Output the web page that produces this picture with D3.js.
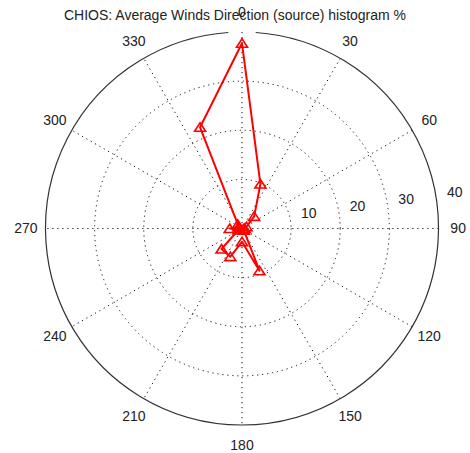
<!DOCTYPE html>
<html>
<head>
<meta charset="utf-8">
<script src="https://cdn.jsdelivr.net/npm/d3@7"></script>
<style>
  body { margin: 0; background: #fff; }
  text { font-family: Arial, "Liberation Sans", sans-serif; font-size: 14px; fill: #222; }
</style>
</head>
<body>
<div class="chart"></div>
<script>
// wind direction bins (degrees, compass) and frequency (%)
const directions = [0, 22.5, 45, 67.5, 90, 112.5, 135, 157.5, 180, 202.5, 225, 247.5, 270, 292.5, 315, 337.5]
const frequencies = [37.7, 9.8, 3.5, 1.0, 0.5, 0.3, 0.5, 9.3, 2.7, 6.2, 5.9, 0.8, 2.5, 0.8, 1.2, 22.3]
const ringTicks = [10, 20, 30, 40]
const angleTicks = [0, 30, 60, 90, 120, 150, 180, 210, 240, 270, 300, 330]
const title = 'CHIOS: Average Winds Direction (source) histogram %'

const width = 470
const height = 453
const cx = 242
const cy = 228.5
const R = 196.5

const data = directions.map((d, i) => ({ dir: d, freq: frequencies[i] }))

const rScale = d3.scaleLinear()
  .domain([0, d3.max(ringTicks)])
  .range([0, R])
const aScale = d3.scaleLinear()
  .domain([0, 360])
  .range([0, 2 * Math.PI])

const svg = d3.select('.chart')
  .append('svg')
  .attr('width', width)
  .attr('height', height)

svg.append('text')
  .attr('x', 235)
  .attr('y', 19.5)
  .attr('text-anchor', 'middle')
  .text(title)

const g = svg.append('g')
  .attr('transform', `translate(${cx},${cy})`)

const px = (a, r) => r * Math.sin(aScale(a))
const py = (a, r) => -r * Math.cos(aScale(a))

// spokes, dotted diameters
g.selectAll('.spoke')
  .data(angleTicks.filter(a => a < 180))
  .enter()
  .append('line')
  .attr('class', 'spoke')
  .attr('x1', d => px(d, R))
  .attr('y1', d => py(d, R))
  .attr('x2', d => px(d + 180, R))
  .attr('y2', d => py(d + 180, R))
  .attr('stroke', '#111')
  .attr('stroke-width', 1)
  .attr('stroke-dasharray', '1.2,3.8')

// inner rings dotted
g.selectAll('.ring')
  .data(ringTicks.slice(0, -1))
  .enter()
  .append('circle')
  .attr('class', 'ring')
  .attr('r', d => rScale(d))
  .attr('fill', 'none')
  .attr('stroke', '#111')
  .attr('stroke-width', 1)
  .attr('stroke-dasharray', '1.2,3.8')

// outer ring solid
g.append('path')
  .attr('d', d3.arc()
    .innerRadius(rScale(d3.max(ringTicks)))
    .outerRadius(rScale(d3.max(ringTicks)))
    .startAngle(aScale(4))
    .endAngle(aScale(356))())
  .attr('fill', 'none')
  .attr('stroke', '#333')
  .attr('stroke-width', 1.2)

// ring labels
g.selectAll('.ring-label')
  .data(ringTicks)
  .enter()
  .append('text')
  .attr('class', 'ring-label')
  .attr('x', d => px(82, rScale(d + 0.5)) + 8)
  .attr('y', d => py(82, rScale(d + 0.5)) - 3.5)
  .text(d => d)

// angle labels
g.selectAll('.angle-label')
  .data(angleTicks)
  .enter()
  .append('text')
  .attr('class', 'angle-label')
  .attr('x', d => px(d, 1.1 * R))
  .attr('y', d => py(d, 1.1 * R))
  .attr('dy', '0.35em')
  .attr('text-anchor', 'middle')
  .text(d => d)

// data line
const line = d3.lineRadial()
  .angle(d => aScale(d.dir))
  .radius(d => rScale(d.freq))
  .curve(d3.curveLinearClosed)

g.append('path')
  .datum(data)
  .attr('d', line)
  .attr('fill', 'none')
  .attr('stroke', '#ff0000')
  .attr('stroke-width', 2)
  .attr('stroke-linejoin', 'round')

g.selectAll('.marker')
  .data(data)
  .enter()
  .append('path')
  .attr('class', 'marker')
  .attr('transform', d => `translate(${px(d.dir, rScale(d.freq))},${py(d.dir, rScale(d.freq))})`)
  .attr('d', 'M0,-4.5L5.5,4L-5.5,4Z')
  .attr('fill', 'none')
  .attr('stroke', '#ff0000')
  .attr('stroke-width', 1.6)
</script>
</body>
</html>
